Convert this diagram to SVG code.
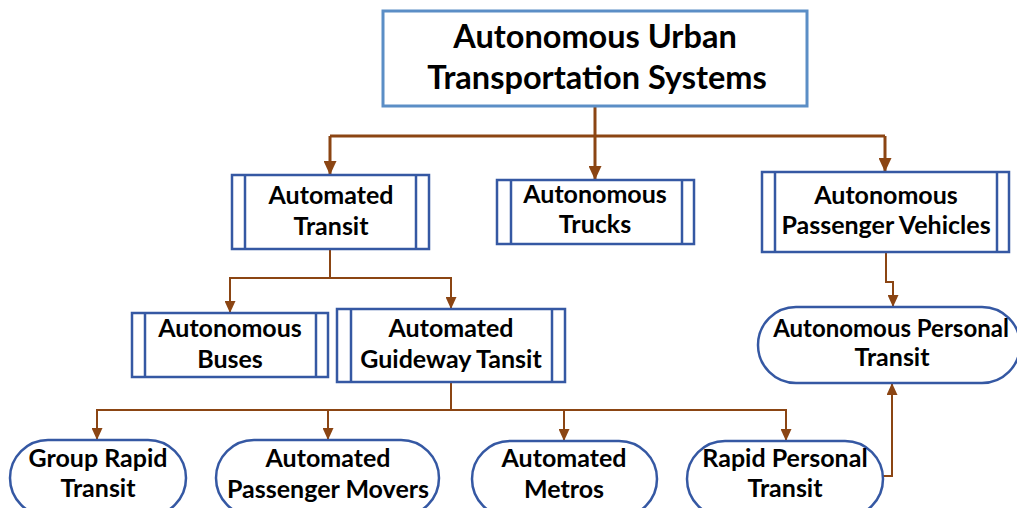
<svg xmlns="http://www.w3.org/2000/svg" width="1017" height="508" viewBox="0 0 1017 508">
  <style>
    .lbl { font-family: Lato, "Liberation Sans", sans-serif; font-weight: 700; fill: #000; text-anchor: middle; }
    .t1 { font-size: 32.5px; }
    .t2 { font-size: 25px; }
    .t2n { font-size: 24px; }
    .box { fill: #fff; stroke: #3558a3; stroke-width: 2.5; }
    .bar { stroke: #3558a3; stroke-width: 2.5; }
    .root { fill: #fff; stroke: #5b8ec6; stroke-width: 3; }
    .wire { fill: none; stroke: #8b4513; stroke-width: 2; }
    .wire-main { fill: none; stroke: #8b4513; stroke-width: 3; }
  </style>
  <defs>
    <marker id="arrow" markerUnits="userSpaceOnUse" markerWidth="12" markerHeight="11" refX="12" refY="5.5" orient="auto">
      <path d="M0,0 L12,5.5 L0,11 z" fill="#8b4513"/>
    </marker>
    <marker id="arrow-main" markerUnits="userSpaceOnUse" markerWidth="14" markerHeight="13" refX="14" refY="6.5" orient="auto">
      <path d="M0,0 L14,6.5 L0,13 z" fill="#8b4513"/>
    </marker>
  </defs>
  <rect width="1017" height="508" fill="#fff"/>

  <!-- connectors -->
  <g id="connectors">
    <path class="wire-main" d="M330,136 H885"/>
    <path class="wire-main" d="M595,106 V180" marker-end="url(#arrow-main)"/>
    <path class="wire-main" d="M330,136 V175" marker-end="url(#arrow-main)"/>
    <path class="wire-main" d="M885,136 V172" marker-end="url(#arrow-main)"/>

    <path class="wire" d="M330,249 V278 H230 V313" marker-end="url(#arrow)"/>
    <path class="wire" d="M330,278 H451 V309" marker-end="url(#arrow)"/>

    <path class="wire" d="M886,252 V282 H893 V307" marker-end="url(#arrow)"/>

    <path class="wire" d="M451,382 V410 H97 V440" marker-end="url(#arrow)"/>
    <path class="wire" d="M328,410 V440" marker-end="url(#arrow)"/>
    <path class="wire" d="M451,410 H786 V441" marker-end="url(#arrow)"/>
    <path class="wire" d="M564,410 V441" marker-end="url(#arrow)"/>

    <path class="wire" d="M883,476 H892 V383" marker-end="url(#arrow)"/>
  </g>

  <!-- root -->
  <g id="node-root">
    <rect class="root" x="383" y="11" width="424" height="95"/>
    <text class="lbl t1" x="595" y="48">Autonomous Urban</text>
    <text class="lbl t1" x="597" y="89">Transportation Systems</text>
  </g>

  <!-- second level -->
  <g id="node-automated-transit">
    <rect class="box" x="232" y="175" width="197" height="74"/>
    <line class="bar" x1="245" y1="175" x2="245" y2="249"/>
    <line class="bar" x1="416" y1="175" x2="416" y2="249"/>
    <text class="lbl t2" x="331" y="204">Automated</text>
    <text class="lbl t2" x="331" y="235">Transit</text>
  </g>

  <g id="node-autonomous-trucks">
    <rect class="box" x="497" y="180" width="197" height="64"/>
    <line class="bar" x1="511" y1="180" x2="511" y2="244"/>
    <line class="bar" x1="682" y1="180" x2="682" y2="244"/>
    <text class="lbl t2" x="595" y="203">Autonomous</text>
    <text class="lbl t2" x="595" y="233">Trucks</text>
  </g>

  <g id="node-passenger-vehicles">
    <rect class="box" x="762" y="172" width="247" height="80"/>
    <line class="bar" x1="775" y1="172" x2="775" y2="252"/>
    <line class="bar" x1="997" y1="172" x2="997" y2="252"/>
    <text class="lbl t2" x="886" y="204">Autonomous</text>
    <text class="lbl t2" x="886" y="234">Passenger Vehicles</text>
  </g>

  <!-- third level -->
  <g id="node-autonomous-buses">
    <rect class="box" x="132" y="313" width="196" height="64"/>
    <line class="bar" x1="145" y1="313" x2="145" y2="377"/>
    <line class="bar" x1="316" y1="313" x2="316" y2="377"/>
    <text class="lbl t2" x="230" y="337">Autonomous</text>
    <text class="lbl t2" x="230" y="368">Buses</text>
  </g>

  <g id="node-guideway-transit">
    <rect class="box" x="337" y="309" width="228" height="73"/>
    <line class="bar" x1="351" y1="309" x2="351" y2="382"/>
    <line class="bar" x1="552" y1="309" x2="552" y2="382"/>
    <text class="lbl t2" x="451" y="337">Automated</text>
    <text class="lbl t2" x="451" y="368">Guideway Tansit</text>
  </g>

  <g id="node-personal-transit">
    <rect class="box" x="758" y="307" width="262" height="76" rx="38" ry="38"/>
    <text class="lbl t2n" x="891" y="337">Autonomous Personal</text>
    <text class="lbl t2" x="892" y="366">Transit</text>
  </g>

  <!-- bottom row -->
  <g id="node-group-rapid">
    <rect class="box" x="10" y="440" width="176" height="76" rx="38" ry="38"/>
    <text class="lbl t2" x="98" y="467">Group Rapid</text>
    <text class="lbl t2" x="98" y="497">Transit</text>
  </g>

  <g id="node-passenger-movers">
    <rect class="box" x="216" y="440" width="223" height="76" rx="38" ry="38"/>
    <text class="lbl t2" x="328" y="467">Automated</text>
    <text class="lbl t2" x="328" y="498">Passenger Movers</text>
  </g>

  <g id="node-metros">
    <rect class="box" x="472" y="441" width="185" height="76" rx="38" ry="38"/>
    <text class="lbl t2" x="564" y="467">Automated</text>
    <text class="lbl t2" x="564" y="498">Metros</text>
  </g>

  <g id="node-rapid-personal">
    <rect class="box" x="687" y="441" width="196" height="76" rx="38" ry="38"/>
    <text class="lbl t2" x="785" y="467">Rapid Personal</text>
    <text class="lbl t2" x="785" y="497">Transit</text>
  </g>
</svg>
